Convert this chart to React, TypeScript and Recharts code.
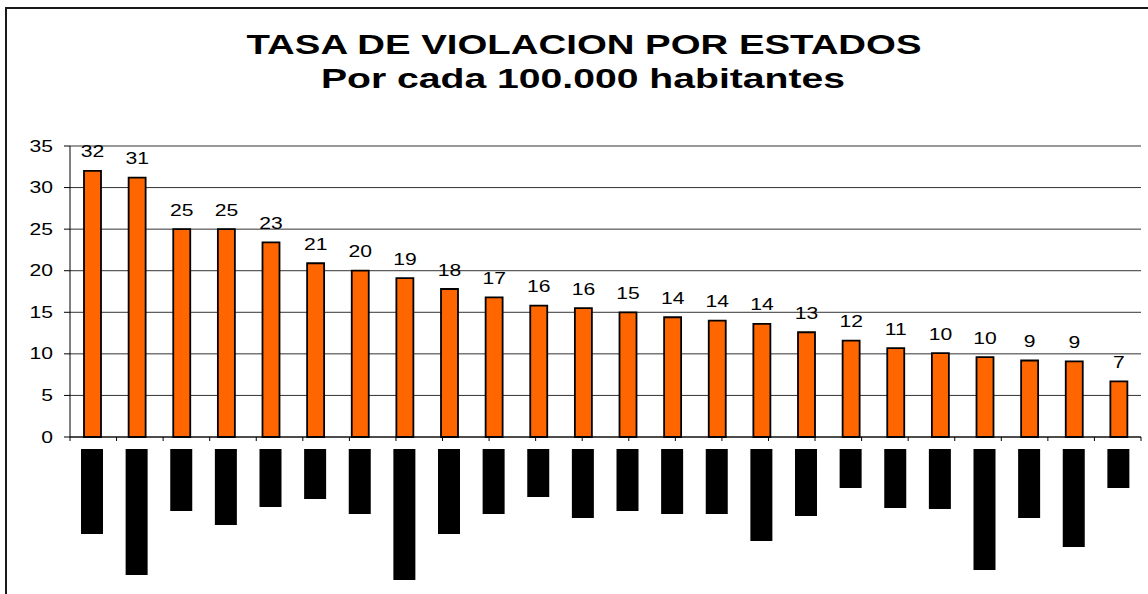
import { FC } from 'react';
import {
  Bar,
  BarChart,
  CartesianGrid,
  LabelList,
  ReferenceLine,
  XAxis,
  YAxis,
} from 'recharts';

// 24 estados (los nombres vienen como bloques negros en la imagen)
const estados = [
  'E01', 'E02', 'E03', 'E04', 'E05', 'E06', 'E07', 'E08',
  'E09', 'E10', 'E11', 'E12', 'E13', 'E14', 'E15', 'E16',
  'E17', 'E18', 'E19', 'E20', 'E21', 'E22', 'E23', 'E24',
];

// tasa por cada 100.000 habitantes
const tasa = [
  32.0, 31.2, 25.0, 25.0, 23.4, 20.9, 20.0, 19.1, 17.8, 16.8, 15.8, 15.5,
  15.0, 14.4, 14.0, 13.6, 12.6, 11.6, 10.7, 10.1, 9.6, 9.2, 9.1, 6.7,
];

// largo de los rotulos (bloques negros bajo el eje)
const largoRotulo = [
  85, 126, 62, 76, 58, 50, 65, 131, 85, 65, 48, 69,
  62, 65, 65, 92, 67, 39, 59, 60, 121, 69, 98, 39,
];

const yTicks = [0, 5, 10, 15, 20, 25, 30, 35];

const data = estados.map((estado, i) => ({
  estado,
  tasa: tasa[i],
  rotulo: largoRotulo[i],
}));

const bordes = estados.map((_, i) => i).concat(estados.length);

const FONT = '"Liberation Sans", Arial, sans-serif';
const STRETCH = 1.32;

const YTick: FC<any> = ({ x, y, payload }) => (
  <text
    transform={`translate(${x},${y + 5.5}) scale(${STRETCH},1)`}
    textAnchor="end"
    fontFamily={FONT}
    fontSize={16}
    fill="#000"
  >
    {payload.value}
  </text>
);

const BarLabel: FC<any> = ({ x, y, width, value }) => (
  <text
    transform={`translate(${x + width / 2},${y - 13.5}) scale(${STRETCH},1)`}
    textAnchor="middle"
    fontFamily={FONT}
    fontSize={16}
    fill="#000"
  >
    {Math.round(value)}
  </text>
);

const App: FC = () => {
  return (
    <div
      style={{
        position: 'absolute',
        left: 0,
        top: 0,
        width: 1148,
        height: 594,
        overflow: 'hidden',
        background: '#fff',
      }}
    >
      <div
        style={{
          position: 'absolute',
          left: 5,
          top: 7,
          width: 1200,
          height: 700,
          border: '2px solid #1a1a1a',
        }}
      />
      <svg
        width={1148}
        height={120}
        style={{ position: 'absolute', left: 0, top: 0 }}
      >
        <text
          x={584}
          y={54}
          textAnchor="middle"
          fontFamily={FONT}
          fontWeight="bold"
          fontSize={28}
          textLength={675}
          lengthAdjust="spacingAndGlyphs"
        >
          TASA DE VIOLACION POR ESTADOS
        </text>
        <text
          x={583}
          y={88}
          textAnchor="middle"
          fontFamily={FONT}
          fontWeight="bold"
          fontSize={28}
          textLength={524}
          lengthAdjust="spacingAndGlyphs"
        >
          Por cada 100.000 habitantes
        </text>
      </svg>

      <div style={{ position: 'absolute', left: 0, top: 0 }}>
        <BarChart
          width={1148}
          height={460}
          data={data}
          margin={{ top: 146, right: 7, left: 0, bottom: 13 }}
        >
          <CartesianGrid vertical={false} stroke="#333" />
          <XAxis xAxisId="cat" dataKey="estado" hide />
          <XAxis
            xAxisId="borde"
            type="number"
            domain={[0, estados.length]}
            ticks={bordes}
            interval={0}
            height={10}
            tickSize={4}
            tickFormatter={() => ''}
            axisLine={{ stroke: '#000' }}
            tickLine={{ stroke: '#000' }}
          />
          <YAxis
            domain={[0, 35]}
            ticks={yTicks}
            interval={0}
            width={70}
            tickSize={6}
            tickMargin={11}
            axisLine={{ stroke: '#000' }}
            tickLine={{ stroke: '#000' }}
            tick={<YTick />}
          />
          <YAxis
            yAxisId="der"
            orientation="right"
            width={0}
            tick={false}
            tickLine={false}
            axisLine={{ stroke: '#999', strokeWidth: 2 }}
          />
          <ReferenceLine y={35} xAxisId="cat" stroke="#999" strokeWidth={2} />
          <Bar
            xAxisId="cat"
            dataKey="tasa"
            fill="#FF6600"
            stroke="#000"
            strokeWidth={1.8}
            barSize={17}
            isAnimationActive={false}
          >
            <LabelList dataKey="tasa" content={<BarLabel />} />
          </Bar>
        </BarChart>
      </div>

      <div style={{ position: 'absolute', left: 0, top: 449 }}>
        <BarChart
          width={1148}
          height={145}
          data={data}
          margin={{ top: 0, right: 7, left: 70, bottom: 0 }}
        >
          <XAxis dataKey="estado" hide />
          <YAxis hide reversed domain={[0, 145]} />
          <Bar
            dataKey="rotulo"
            fill="#000"
            barSize={22}
            isAnimationActive={false}
          />
        </BarChart>
      </div>
    </div>
  );
};

export default App;
